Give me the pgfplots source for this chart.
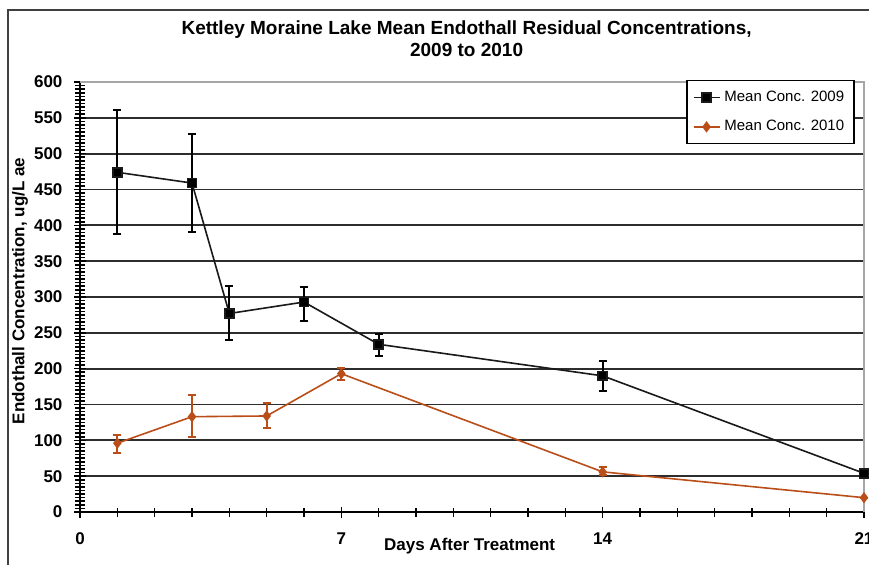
\documentclass[border=0pt]{standalone}
\usepackage{fontspec}
\setmainfont{Liberation Sans}
\usepackage{pgfplots}
\pgfplotsset{compat=1.18}
\definecolor{rust}{RGB}{186,78,24}
\definecolor{gridc}{RGB}{45,45,45}

\begin{document}
\begin{tikzpicture}
\path[use as bounding box, clip] (0,0) rectangle (434.5pt,282pt);
\draw[line width=1pt, black!75] (4pt,-10pt) |- (450pt,277pt);
\node[font=\fontsize{9.5}{11}\selectfont\bfseries, align=center] at (233.3pt,262.5pt)
  {Kettley Moraine Lake Mean Endothall Residual Concentrations,\\2009 to 2010};
\begin{axis}[
  at={(40pt,26pt)}, anchor=south west,
  scale only axis, width=392pt, height=215pt,
  xmin=0, xmax=21, ymin=0, ymax=600,
  axis x line*=bottom, axis y line*=left,
  axis line style={black, line width=0.8pt},
  xtick={0,7,14,21}, minor x tick num=6,
  ytick={0,50,...,600}, minor y tick num=9,
  tick align=center, major tick length=5.5pt, minor tick length=4.5pt,
  tick style={black, line width=0.8pt},
  ymajorgrids, grid style={gridc, line width=0.9pt},
  /pgf/number format/assume math mode=true,
  tick label style={font=\fontsize{8.5}{10}\selectfont\bfseries},
  xticklabel style={yshift=-4pt},
  yticklabel style={xshift=-2.5pt},
  xlabel={Days After Treatment},
  ylabel={Endothall Concentration, ug/L ae},
  label style={font=\fontsize{8.5}{10}\selectfont\bfseries},
  xlabel style={at={(axis description cs:0.497,0)}, anchor=center, yshift=-17pt},
  ylabel style={at={(axis description cs:-0.0765,0.514)}, anchor=center},
  clip=false,
  legend style={at={(axis description cs:0.9885,1.005)}, anchor=north east,
    draw=black, line width=0.8pt, font=\fontsize{7.5}{9}\selectfont,
    row sep=4pt, inner xsep=3pt, inner ysep=3pt, cells={anchor=west}},
  legend image code/.code={
    \draw[mark repeat=2, mark phase=2] plot coordinates {(0pt,0pt) (6.5pt,0pt) (13pt,0pt)};},
]
\draw[gray!70, line width=0.9pt] (axis cs:0,600) -| (axis cs:21,0);

\addplot[black!90, line width=0.8pt, mark=square*, mark size=2.2pt,
  mark options={solid, fill=black},
  error bars/.cd, y dir=both, y explicit,
  error bar style={line width=1pt, black},
  error mark options={rotate=90, mark size=2pt, line width=1pt, black}]
coordinates {
  (1,474) += (0,87) -= (0,86)
  (3,459) += (0,69) -= (0,68)
  (4,277) += (0,38) -= (0,37)
  (6,293) += (0,21) -= (0,26)
  (8,234) += (0,14) -= (0,17)
  (14,190) += (0,21) -= (0,21)
  (21,54) += (0,0) -= (0,0)
};
\addlegendentry{Mean Conc. 2009}

\addplot[rust, line width=0.8pt, mark=diamond*, mark size=2.2pt,
  mark options={solid, fill=rust},
  error bars/.cd, y dir=both, y explicit,
  error bar style={line width=1pt, rust},
  error mark options={rotate=90, mark size=2pt, line width=1pt, rust}]
coordinates {
  (1,96) += (0,11) -= (0,13)
  (3,133) += (0,30) -= (0,28)
  (5,134) += (0,18) -= (0,17)
  (7,193) += (0,8) -= (0,9)
  (14,56) += (0,7) -= (0,5)
  (21,20) += (0,0) -= (0,0)
};
\addlegendentry{Mean Conc. 2010}
\end{axis}
\end{tikzpicture}
\end{document}
